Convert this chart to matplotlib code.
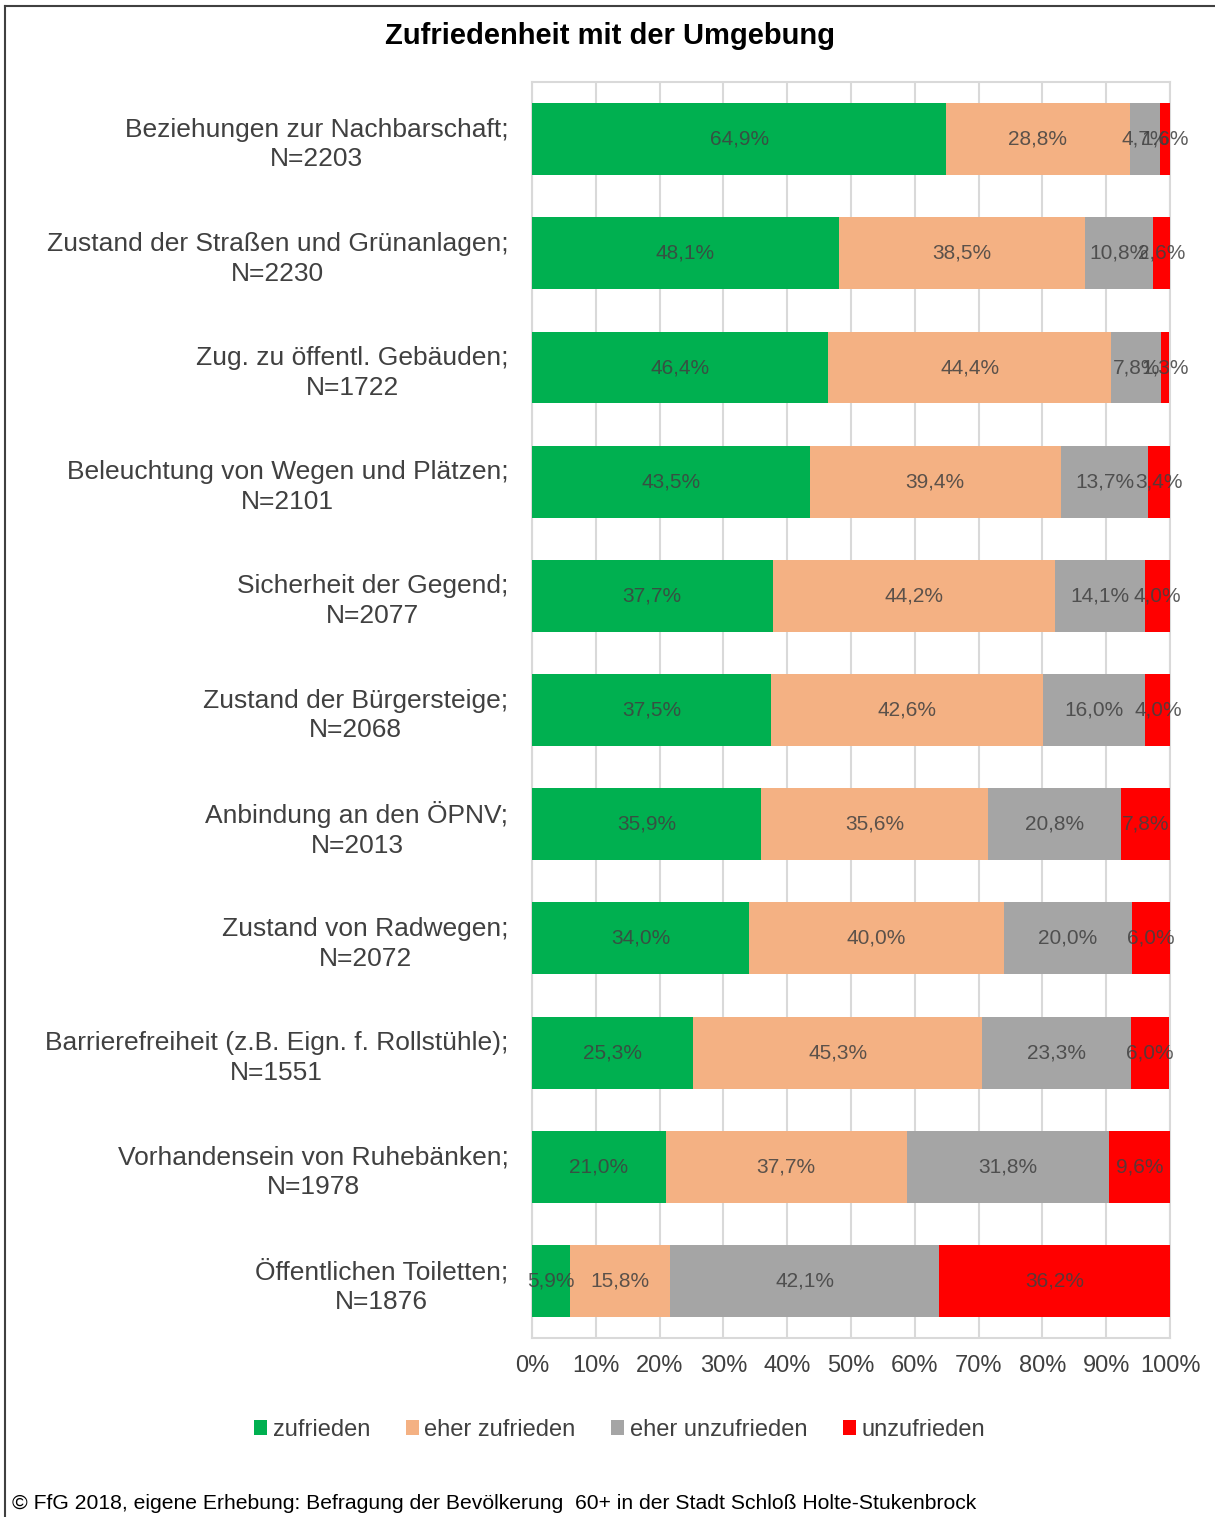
import numpy as np
import matplotlib.pyplot as plt
from matplotlib.patches import Patch
from matplotlib.lines import Line2D

plt.rcParams['font.family'] = ['Liberation Sans', 'DejaVu Sans']

# Data
categories = [
    "Beziehungen zur Nachbarschaft;\nN=2203",
    "Zustand der Straßen und Grünanlagen;\nN=2230",
    "Zug. zu öffentl. Gebäuden;\nN=1722",
    "Beleuchtung von Wegen und Plätzen;\nN=2101",
    "Sicherheit der Gegend;\nN=2077",
    "Zustand der Bürgersteige;\nN=2068",
    "Anbindung an den ÖPNV;\nN=2013",
    "Zustand von Radwegen;\nN=2072",
    "Barrierefreiheit (z.B. Eign. f. Rollstühle);\nN=1551",
    "Vorhandensein von Ruhebänken;\nN=1978",
    "Öffentlichen Toiletten;\nN=1876",
]
zufrieden = [64.9, 48.1, 46.4, 43.5, 37.7, 37.5, 35.9, 34.0, 25.3, 21.0, 5.9]
eher_zufrieden = [28.8, 38.5, 44.4, 39.4, 44.2, 42.6, 35.6, 40.0, 45.3, 37.7, 15.8]
eher_unzufrieden = [4.7, 10.8, 7.8, 13.7, 14.1, 16.0, 20.8, 20.0, 23.3, 31.8, 42.1]
unzufrieden = [1.6, 2.6, 1.3, 3.4, 4.0, 4.0, 7.8, 6.0, 6.0, 9.6, 36.2]

series = [
    ("zufrieden", zufrieden, "#00B050"),
    ("eher zufrieden", eher_zufrieden, "#F4B183"),
    ("eher unzufrieden", eher_unzufrieden, "#A5A5A5"),
    ("unzufrieden", unzufrieden, "#FF0000"),
]

fig = plt.figure(figsize=(12.15, 15.17), dpi=100)
ax = fig.add_axes([0.4379, 0.1180, 0.5251, 0.8279])

y = np.arange(len(categories))
left = np.zeros(len(categories))
for name, vals, col in series:
    vals = np.array(vals)
    bars = ax.barh(y, vals, left=left, height=0.63, color=col, zorder=3)
    # labels centred in each segment, like Excel does
    for b, v in zip(bars, vals):
        cx = b.get_x() + b.get_width() / 2
        ax.text(cx, b.get_y() + b.get_height() / 2, f"{v:.1f}%".replace(".", ","),
                ha="center", va="center", fontsize=15, color="#404040",
                alpha=0.85, zorder=4)
    left += vals

ax.set_ylim(len(categories) - 0.5, -0.5)
ax.set_xlim(0, 100)
ax.set_yticks(y)
ax.set_yticklabels(categories, fontsize=19, color="#404040", ha="right",
                   multialignment="center", linespacing=1.3)
ax.set_xticks(np.arange(0, 101, 10))
ax.set_xticklabels([f"{t}%" for t in range(0, 101, 10)], fontsize=17, color="#404040")
ax.tick_params(axis="y", length=0, pad=17)
ax.tick_params(axis="x", length=0, pad=12)
ax.grid(axis="x", color="#D9D9D9", linewidth=1.5, zorder=0)
for s in ax.spines.values():
    s.set_color("#D9D9D9")
    s.set_linewidth(1.5)

fig.text(0.502, 0.976, "Zufriedenheit mit der Umgebung", ha="center", va="center",
         fontsize=21, fontweight="bold", color="#000000")

handles = [Patch(facecolor=col, edgecolor="none", label=name) for name, _, col in series]
fig.legend(handles=handles, loc="center", bbox_to_anchor=(0.51, 0.0575), ncol=4,
           frameon=False, fontsize=17, handlelength=0.55, handleheight=0.55,
           handletextpad=0.25, columnspacing=1.5, labelcolor="#404040")

fig.text(0.01, 0.0092, "© FfG 2018, eigene Erhebung: Befragung der Bevölkerung  60+ in der Stadt Schloß Holte-Stukenbrock",
         ha="left", va="center", fontsize=15.2, color="#000000")

# outer frame
fig.add_artist(Line2D([0.004, 0.004], [0, 0.996], transform=fig.transFigure,
                      color="#404040", linewidth=1.5))
fig.add_artist(Line2D([0.004, 1.0], [0.996, 0.996], transform=fig.transFigure,
                      color="#404040", linewidth=1.5))

fig.savefig("out.png", dpi=100)
